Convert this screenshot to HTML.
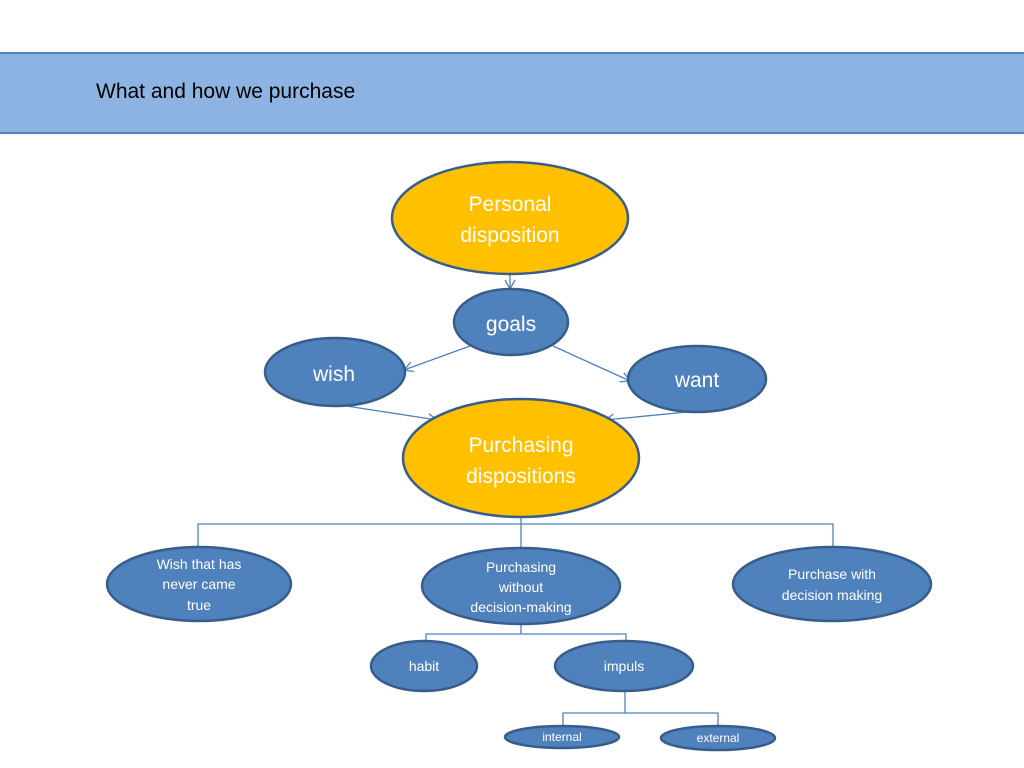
<!DOCTYPE html>
<html><head><meta charset="utf-8"><style>
html,body{margin:0;padding:0;background:#fff;width:1024px;height:768px;overflow:hidden}
svg text{font-family:"Liberation Sans Narrow","Liberation Sans",sans-serif;fill:#fff;text-anchor:middle}
</style></head><body>
<svg width="1024" height="768" viewBox="0 0 1024 768" xmlns="http://www.w3.org/2000/svg">
<defs><marker id="a" markerWidth="12" markerHeight="12" refX="10" refY="6" orient="auto" markerUnits="userSpaceOnUse"><path d="M1,1 L10,6 L1,11" fill="none" stroke="#4F81BD" stroke-width="1.3"/></marker></defs>
<rect x="-2" y="53" width="1028" height="80" fill="#8DB3E2" stroke="#4F81BD" stroke-width="2"/>
<text x="96" y="98" style="fill:#000;text-anchor:start;font-family:'Liberation Sans',sans-serif;font-size:21px">What and how we purchase</text>
<g stroke="#4F81BD" stroke-width="1.3" fill="none">
<line x1="510" y1="274" x2="510" y2="289" marker-end="url(#a)"/>
<line x1="470" y1="346" x2="404" y2="370" marker-end="url(#a)"/>
<line x1="553" y1="346" x2="630" y2="381" marker-end="url(#a)"/>
<line x1="340" y1="405" x2="437" y2="420" marker-end="url(#a)"/>
<line x1="697" y1="411" x2="605" y2="420" marker-end="url(#a)"/>
<polyline points="198,548 198,524 833,524 833,548"/>
<line x1="521" y1="517" x2="521" y2="549"/>
<polyline points="426,643 426,634 626,634 626,643"/>
<line x1="521" y1="624" x2="521" y2="634"/>
<polyline points="563,727 563,713 718,713 718,727"/>
<line x1="625" y1="691" x2="625" y2="713"/>
</g>
<g stroke="#385D8A" stroke-width="2.5">
<ellipse cx="510" cy="218" rx="118" ry="56" fill="#FFC000"/>
<ellipse cx="521" cy="458" rx="118" ry="59" fill="#FFC000"/>
</g>
<g stroke="#385D8A" stroke-width="2.5" fill="#4F81BD">
<ellipse cx="511" cy="322" rx="57" ry="33"/>
<ellipse cx="335" cy="372" rx="70" ry="34"/>
<ellipse cx="697" cy="379" rx="69" ry="33"/>
<ellipse cx="199" cy="584" rx="92" ry="37"/>
<ellipse cx="521" cy="586" rx="99" ry="38"/>
<ellipse cx="832" cy="584" rx="99" ry="37"/>
<ellipse cx="424" cy="666" rx="53" ry="25"/>
<ellipse cx="624" cy="666" rx="69" ry="25"/>
<ellipse cx="562" cy="737" rx="57" ry="11"/>
<ellipse cx="718" cy="738" rx="57" ry="12"/>
</g>
<g style="font-family:'Liberation Sans',sans-serif">
<text x="510" y="211" font-size="21">Personal</text>
<text x="510" y="242" font-size="21">disposition</text>
<text x="511" y="331" font-size="21">goals</text>
<text x="334" y="381" font-size="21">wish</text>
<text x="697" y="387" font-size="21">want</text>
<text x="521" y="452" font-size="21">Purchasing</text>
<text x="521" y="483" font-size="21">dispositions</text>
</g>
<g font-size="14">
<text x="199" y="569">Wish that has</text>
<text x="199" y="589">never came</text>
<text x="199" y="610">true</text>
<text x="521" y="572">Purchasing</text>
<text x="521" y="592">without</text>
<text x="521" y="612">decision-making</text>
<text x="832" y="579">Purchase with</text>
<text x="832" y="600">decision making</text>
<text x="424" y="671">habit</text>
<text x="624" y="671">impuls</text>
<text x="562" y="741" font-size="12">internal</text>
<text x="718" y="742" font-size="12">external</text>
</g>
</svg>
</body></html>
